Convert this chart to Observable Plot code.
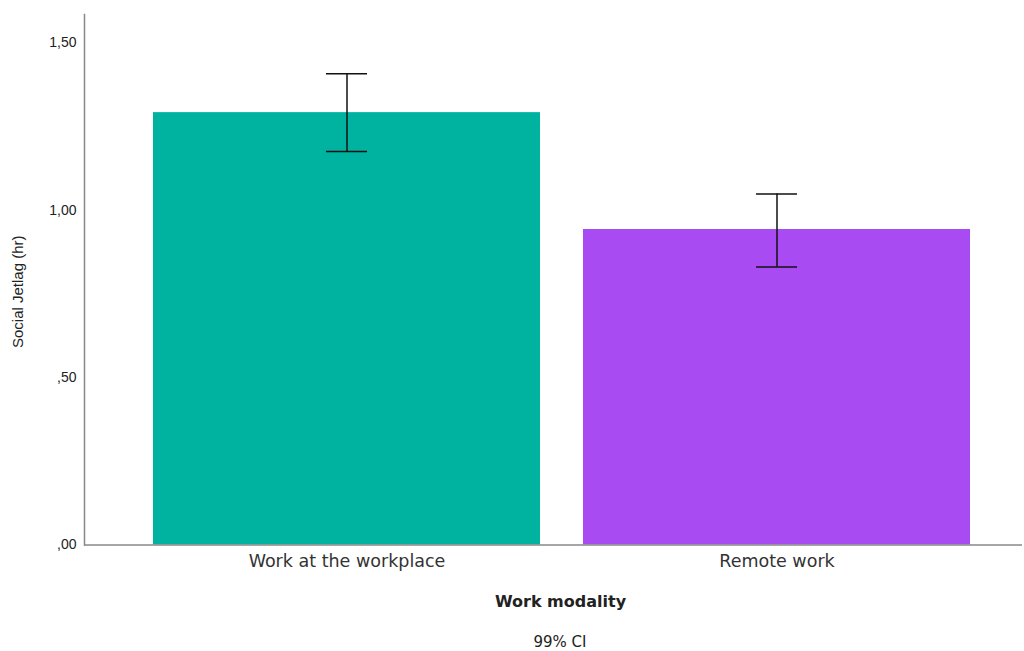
<!DOCTYPE html>
<html><head><meta charset="utf-8">
<script src="https://cdn.jsdelivr.net/npm/d3@7"></script>
<script src="https://cdn.jsdelivr.net/npm/@observablehq/plot@0.6"></script>
<style>
body{margin:0;background:#fff;}
#cap{width:1024px;box-sizing:border-box;padding-left:96px;text-align:center;font:15px "DejaVu Sans",sans-serif;color:#222;margin-top:13px;}
</style>
</head><body>
<div id="chart"></div>
<div id="cap">99% CI</div>
<script>
const categories = ["Work at the workplace", "Remote work"];
const means = [1.291, 0.942];
const ciLow = [1.175, 0.830];
const ciHigh = [1.407, 1.048];
const colors = ["#00b3a0", "#a84bf2"];
const yTicks = [0, 0.5, 1.0, 1.5];

const data = categories.map((c, i) => ({cat: c, mean: means[i], lo: ciLow[i], hi: ciHigh[i]}));
const fmt = d => d3.format(".2f")(d).replace(".", ",").replace(/^0,/, ",");

const plot = Plot.plot({
  width: 1024,
  height: 620,
  marginLeft: 84,
  marginRight: 2,
  marginTop: 14,
  marginBottom: 75.5,
  style: {fontFamily: "Liberation Sans, Arial, sans-serif", background: "#fff"},
  x: {domain: categories, range: [109, 1013], paddingInner: 0.1, paddingOuter: 0.1, axis: null},
  y: {domain: [0, 1.584], axis: null},
  color: {domain: categories, range: colors},
  marks: [
    Plot.barY(data, {x: "cat", y: "mean", fill: "cat"}),
    Plot.ruleX(data, {x: "cat", y1: "lo", y2: "hi", stroke: "#111", strokeWidth: 1.5}),
    Plot.tickY(data, {x: "cat", y: "lo", stroke: "#111", strokeWidth: 1.5, insetLeft: 173, insetRight: 173}),
    Plot.tickY(data, {x: "cat", y: "hi", stroke: "#111", strokeWidth: 1.5, insetLeft: 173, insetRight: 173}),
    Plot.frame({anchor: "left", stroke: "#888", strokeWidth: 1.5}),
    Plot.ruleY([0], {stroke: "#888", strokeWidth: 1.5}),
    Plot.axisY(yTicks, {tickSize: 0, tickPadding: 8, tickFormat: fmt, fontSize: 14, fill: "#222", label: null}),
    Plot.axisX(categories, {tickSize: 0, tickPadding: 10, fontSize: 17.5, fill: "#333", label: null, fontFamily: "DejaVu Sans, sans-serif", style: {letterSpacing: "0.5px"}}),
    Plot.text(["Social Jetlag (hr)"], {frameAnchor: "left", textAnchor: "middle", dx: -66, dy: 12, rotate: -90, fontSize: 15, fill: "#222"}),
    Plot.text(["Work modality"], {frameAnchor: "bottom", dx: 7, dy: 62, fontSize: 16, fontWeight: "bold", fill: "#222", fontFamily: "DejaVu Sans, sans-serif", style: {letterSpacing: "1.3px"}})
  ]
});
document.getElementById("chart").append(plot);
</script>
</body></html>
